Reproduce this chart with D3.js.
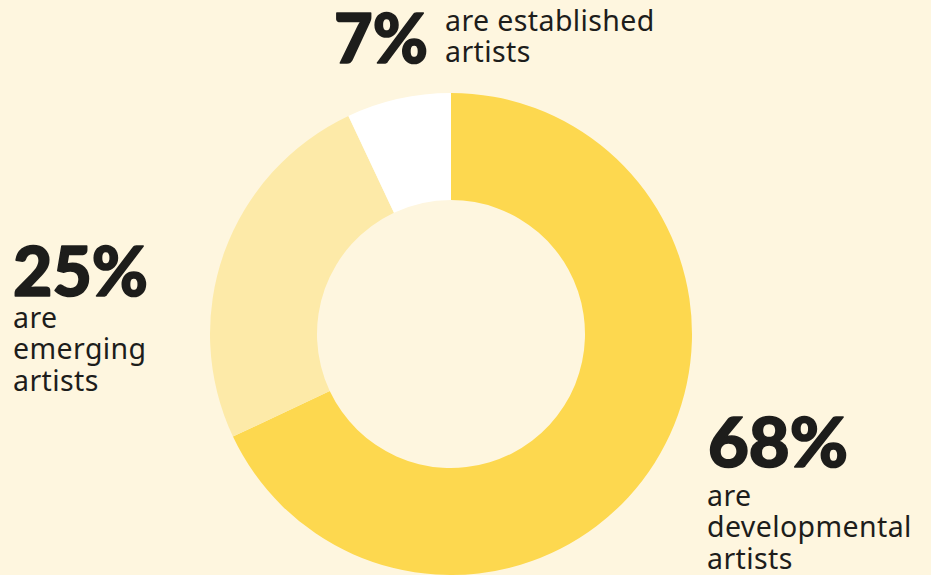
<!DOCTYPE html>
<html>
<head>
<meta charset="utf-8">
<script src="https://cdn.jsdelivr.net/npm/d3@7"></script>
<style>
  html, body { margin: 0; padding: 0; background: #FEF6DF; }
  svg { display: block; }
</style>
</head>
<body>
<svg id="chart" width="931" height="575"></svg>
<script>
const categories = ["developmental", "emerging", "established"];
const values = [68, 25, 7];
const pctLabels = ["68%", "25%", "7%"];
const descLines = [["are", "developmental", "artists"], ["are", "emerging", "artists"], ["are established", "artists"]];
const colors = ["#FDD84F", "#FDEAA8", "#FFFFFF"];

const W = 931, H = 575;
const cx = 451, cy = 334, rOuter = 241, rInner = 134;

const svg = d3.select("#chart");
svg.append("rect").attr("width", W).attr("height", H).attr("fill", "#FEF6DF");

const pie = d3.pie().sort(null).value(d => d)(values);
const arc = d3.arc().innerRadius(rInner).outerRadius(rOuter);
const color = d3.scaleOrdinal().domain(categories).range(colors);

const g = svg.append("g").attr("transform", `translate(${cx},${cy})`);
g.selectAll("path").data(pie).join("path")
  .attr("d", arc)
  .attr("fill", (d, i) => color(categories[i]));

const pctFont = "Lato, 'Open Sans', sans-serif";
const bodyFont = "'Noto Sans', 'Open Sans', sans-serif";
const ink = "#1d1d1b";

const layout = [
  { px: 708, py: 467, dx: 707, dy: 506, fitW: 140 },
  { px: 13, py: 296, dx: 13, dy: 328, fitW: 135 },
  { px: 334, py: 63, dx: 445, dy: 31, fitW: 94 }
];

categories.forEach((c, i) => {
  const L = layout[i];
  const t = svg.append("text")
    .attr("x", L.px).attr("y", L.py)
    .attr("font-family", pctFont).attr("font-weight", 900)
    .attr("font-size", 68).attr("fill", ink)
    .attr("stroke", ink).attr("stroke-width", 1.6).attr("stroke-linejoin", "round")
    .attr("textLength", L.fitW).attr("lengthAdjust", "spacingAndGlyphs")
    .text(pctLabels[i]);
  const dt = svg.append("text")
    .attr("font-family", bodyFont).attr("font-size", 28.5).attr("fill", ink)
    .attr("letter-spacing", 0.4);
  descLines[i].forEach((line, j) => {
    dt.append("tspan").attr("x", L.dx).attr("y", L.dy + j * 31.3).text(line);
  });
});
</script>
</body>
</html>
